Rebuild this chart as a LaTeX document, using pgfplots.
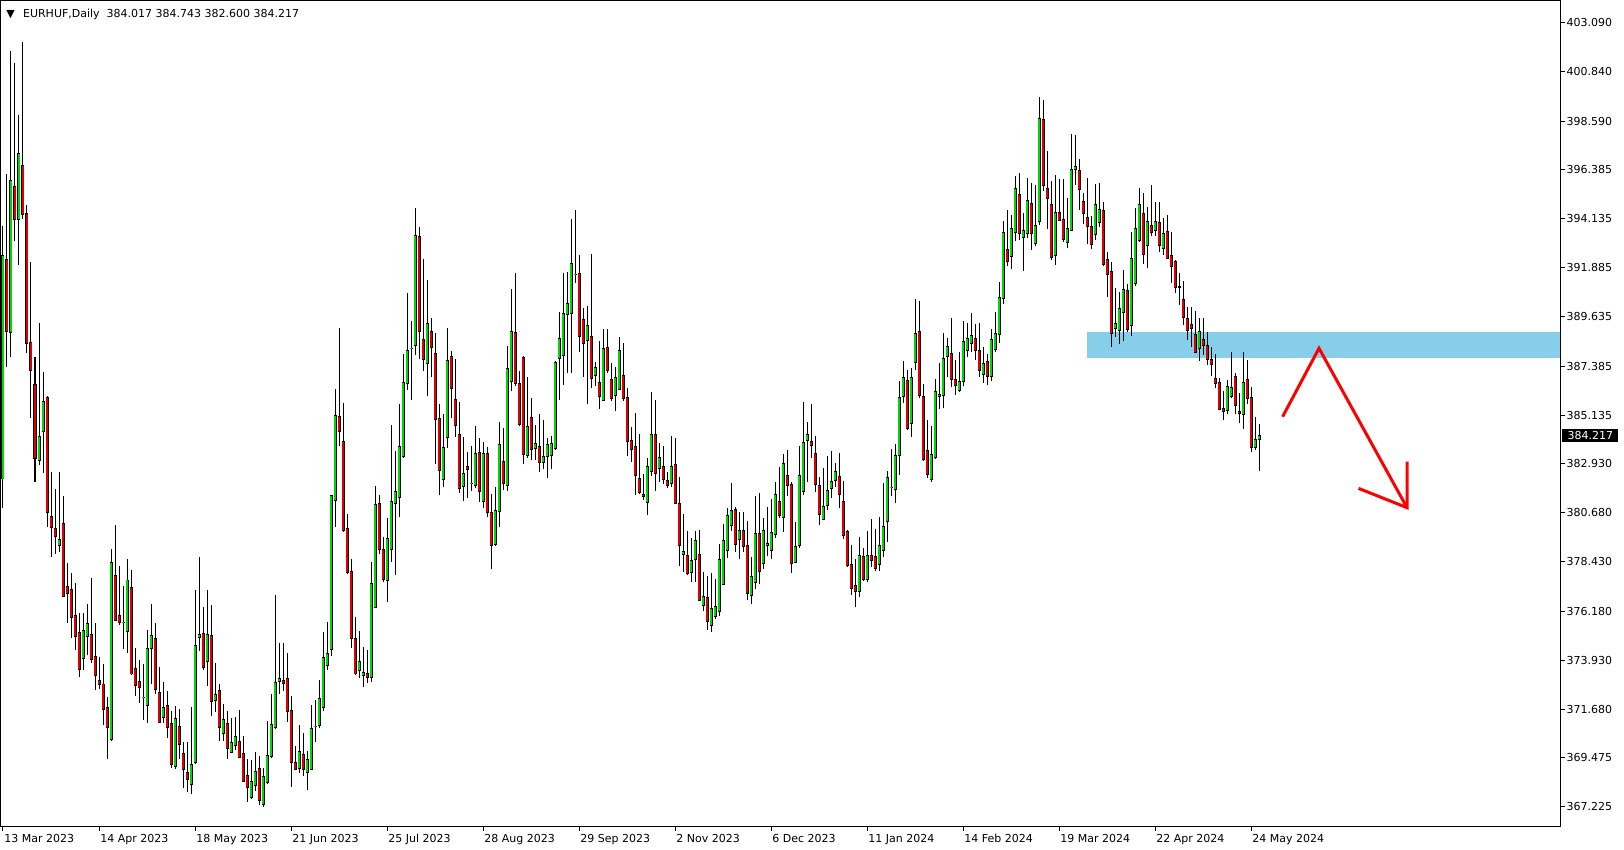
\documentclass[border=0pt]{standalone}
\usepackage{fontspec}
\setmainfont{DejaVu Sans}
\usepackage{pgfplots}
\usepackage{pgfplotstable}
\pgfplotsset{compat=1.18}
\definecolor{bull}{RGB}{0,215,0}
\definecolor{bear}{RGB}{220,0,0}
\definecolor{zone}{RGB}{135,206,235}
\newcommand{\lab}{\fontsize{5.5pt}{6.6pt}\selectfont}
\pgfplotstableread{
i o h l c
0 382.22 393.80 380.90 392.44
2 388.91 401.78 387.82 395.88
4 394.08 398.88 392.00 397.12
9 383.06 389.36 382.85 384.15
10 384.38 387.13 382.51 385.75
14 379.16 382.56 378.86 379.47
20 374.02 376.11 373.47 375.27
21 375.02 376.49 374.16 375.59
27 370.30 379.01 370.24 378.38
30 375.65 377.33 374.43 375.66
31 375.25 378.55 374.27 377.60
35 372.21 373.76 371.20 372.22
36 371.85 375.32 371.04 374.45
37 374.45 376.49 372.82 375.07
40 371.33 372.93 371.04 371.77
43 369.06 371.84 368.97 371.27
47 368.25 371.79 367.83 369.17
48 369.26 377.14 369.20 374.61
49 374.98 378.65 374.35 375.11
51 373.86 377.14 372.77 375.11
53 372.08 373.79 371.56 372.38
55 370.59 371.93 370.25 371.23
57 369.72 371.29 369.67 370.17
58 370.04 371.33 369.81 370.45
62 367.66 369.38 367.60 368.39
63 368.21 369.72 367.93 368.85
65 367.32 368.98 367.23 368.62
66 368.33 371.15 368.28 369.58
67 369.52 372.39 369.44 370.99
68 370.86 376.91 370.80 372.92
69 372.97 374.70 372.40 373.10
74 368.98 370.97 368.76 369.76
76 368.80 369.76 368.01 369.40
77 368.94 371.88 368.90 370.79
78 370.89 372.11 370.20 370.90
79 370.94 373.03 370.82 372.19
80 371.78 375.21 371.59 374.06
81 373.68 375.66 373.48 374.22
82 374.43 381.50 374.12 381.47
83 381.24 386.32 380.04 385.13
89 373.45 375.27 373.10 373.88
90 373.22 374.52 372.69 373.38
92 373.15 378.43 372.92 377.45
93 376.35 381.90 376.30 381.06
96 377.59 380.44 376.61 379.51
97 379.00 384.69 378.41 381.20
98 381.11 383.50 377.84 381.66
99 381.38 385.64 380.50 383.71
100 383.26 387.94 383.20 386.64
101 386.60 390.71 386.28 388.11
102 388.18 389.45 385.82 388.19
103 388.34 394.60 387.88 393.37
106 387.51 391.31 386.00 389.34
110 382.20 385.18 381.84 383.67
111 384.13 389.13 383.62 387.65
115 381.88 384.13 381.20 382.48
117 382.02 383.71 381.66 382.03
118 381.93 384.63 381.79 383.39
120 381.20 383.90 380.88 383.39
123 379.23 381.84 379.14 380.79
124 380.74 384.81 380.01 383.81
126 381.93 388.29 381.66 387.28
127 386.69 390.90 386.23 388.97
131 383.30 386.87 383.17 384.63
133 383.62 384.68 383.07 383.85
135 382.98 384.90 382.66 383.26
136 383.26 384.08 382.25 383.81
137 383.30 384.20 382.66 383.85
138 383.62 387.60 383.55 387.56
139 387.74 389.84 385.82 388.65
140 387.88 391.63 386.51 389.80
141 389.75 391.67 387.05 390.26
142 389.80 394.11 387.05 392.09
143 391.58 394.53 391.17 391.59
146 388.56 390.12 385.64 389.25
148 386.96 387.56 386.46 387.33
150 385.82 389.07 385.78 388.20
153 386.05 387.33 385.31 386.87
154 386.32 388.70 386.28 388.11
161 381.15 383.17 380.56 382.80
162 382.57 386.19 382.34 384.26
164 382.71 383.85 382.07 383.21
167 382.02 384.17 381.84 382.80
170 378.77 380.60 377.95 378.91
172 377.95 379.51 377.49 378.50
173 378.55 379.83 377.49 379.42
175 376.44 377.95 376.17 376.85
177 375.53 377.91 375.21 376.30
178 375.94 377.63 375.80 376.40
179 376.17 379.24 375.94 378.55
180 377.40 380.15 377.35 379.42
181 378.96 380.88 378.59 380.56
182 380.10 382.02 379.83 380.79
184 379.46 380.69 378.55 379.87
187 376.90 378.64 376.49 377.77
188 377.49 381.43 377.17 379.74
190 378.36 380.42 378.09 379.87
191 379.19 380.92 378.68 379.28
192 378.96 381.29 378.55 379.78
193 379.69 382.07 379.51 381.52
195 380.47 383.35 379.78 382.94
198 378.41 380.24 378.36 379.14
199 379.19 383.72 379.05 382.39
200 381.66 385.73 381.47 383.90
201 383.99 384.81 382.07 384.26
205 380.38 382.71 380.33 380.97
206 381.02 383.26 380.79 381.70
207 381.79 383.49 381.34 382.11
208 382.16 382.94 381.84 382.57
214 377.08 379.55 376.81 378.73
216 377.63 379.83 377.49 378.73
219 378.32 380.47 378.00 379.19
220 378.96 382.02 378.64 380.06
221 380.28 382.57 379.32 382.30
222 381.82 383.58 381.43 381.83
223 381.75 383.81 381.11 383.30
224 383.30 386.69 382.39 385.96
225 386.00 387.60 385.68 386.87
227 384.77 387.28 384.13 386.87
228 387.56 390.44 387.19 388.88
232 382.21 384.63 382.07 383.35
233 383.21 386.78 383.15 386.23
234 386.00 387.51 385.41 386.09
235 386.05 388.88 385.45 387.74
236 387.83 388.65 386.87 388.29
239 386.28 388.01 386.19 386.69
240 386.69 389.43 386.46 388.52
241 388.11 389.34 387.82 388.66
242 388.43 389.80 388.02 388.79
245 387.00 388.24 386.60 387.50
247 386.90 389.07 386.70 388.61
248 388.15 389.84 388.02 388.88
249 388.84 391.22 388.43 390.53
250 390.48 394.01 390.21 393.50
252 392.41 394.28 391.82 393.69
253 393.50 396.07 393.09 395.52
255 393.28 394.37 391.75 393.60
256 393.46 395.97 393.23 394.97
258 393.00 395.65 392.86 393.82
259 394.01 399.68 393.82 398.72
263 392.45 396.11 391.99 394.42
266 393.05 395.06 392.77 393.69
267 393.60 397.99 393.55 396.39
268 396.39 397.94 395.65 396.52
273 393.41 395.70 393.14 394.79
274 393.96 395.75 393.73 394.56
278 389.11 390.94 388.70 389.34
279 389.02 390.76 388.38 390.03
280 389.84 391.77 388.52 390.90
282 389.25 393.52 388.75 392.31
283 391.17 394.60 391.03 393.69
284 393.14 395.52 393.05 394.79
286 392.91 394.65 391.86 394.01
288 393.60 394.88 393.32 394.01
290 392.77 394.14 392.45 393.46
299 388.20 389.57 387.60 388.98
306 385.36 386.74 385.18 386.46
307 386.00 388.01 385.91 386.41
310 385.18 388.01 384.49 386.64
313 383.67 385.04 383.53 384.04
314 384.017 384.743 382.600 384.217
}\greentab
\pgfplotstableread{
i o h l c
1 392.27 396.17 387.34 388.96
3 395.59 401.25 393.13 394.08
5 396.55 402.20 394.12 394.31
6 394.35 394.75 387.97 388.43
7 388.45 392.15 384.99 387.17
8 386.54 387.78 382.09 383.14
11 385.93 386.00 380.04 380.69
12 380.52 382.56 378.65 380.02
13 379.95 381.78 378.80 379.58
15 380.18 381.42 376.80 376.85
16 377.29 378.36 375.65 376.97
17 377.16 377.92 374.96 375.88
18 375.99 377.48 374.39 375.00
19 375.21 376.07 373.18 373.51
22 375.09 377.67 373.80 373.97
23 374.12 375.61 372.59 373.22
24 372.99 374.06 372.61 372.80
25 372.84 373.74 370.95 371.69
26 371.75 372.27 369.40 370.87
28 377.81 380.10 375.71 375.76
29 375.99 378.25 375.54 375.65
32 377.27 378.07 373.24 373.30
33 373.55 374.49 372.30 372.78
34 372.97 373.93 371.98 372.67
38 374.94 375.65 372.40 372.59
39 372.46 373.60 371.04 371.08
41 371.87 372.52 370.39 370.86
42 371.04 371.61 369.02 369.17
44 370.91 371.68 369.40 370.08
45 369.67 370.17 368.10 368.94
46 368.80 370.17 367.92 368.48
50 375.16 376.35 373.50 373.59
52 375.07 376.46 371.39 372.03
54 372.55 372.84 370.25 370.86
56 371.04 371.61 369.43 369.90
59 370.22 371.65 369.44 369.49
60 369.67 370.45 368.35 368.39
61 368.66 369.43 367.46 368.11
64 368.98 369.53 367.32 367.52
70 373.01 374.70 372.54 372.87
71 373.10 374.25 371.12 371.58
72 371.61 372.29 368.15 369.26
73 369.26 369.99 368.89 368.94
75 369.63 370.60 368.65 368.94
84 385.09 389.13 383.75 384.39
85 383.94 385.70 379.81 379.86
86 379.96 380.62 377.86 377.95
87 378.00 378.55 374.50 374.93
88 374.93 375.91 373.25 373.30
91 373.33 374.40 372.87 373.15
94 381.11 381.47 378.77 379.00
95 379.00 379.57 377.49 377.63
104 393.32 393.73 387.69 388.97
105 388.61 392.27 387.18 387.69
107 388.97 389.57 386.87 388.24
108 387.97 388.88 382.89 384.95
109 385.00 385.64 381.47 382.62
112 387.83 388.06 385.00 386.37
113 385.87 387.69 384.13 384.67
114 384.26 385.73 381.57 381.79
116 382.77 383.44 381.34 382.66
119 383.44 384.08 381.15 381.66
121 383.39 383.70 380.50 380.70
122 380.70 381.52 378.09 379.19
125 383.03 384.54 381.70 382.02
128 388.93 391.63 386.46 386.60
129 386.60 387.15 384.63 384.72
130 387.79 387.85 382.89 383.35
132 385.04 385.91 383.07 383.58
134 383.71 385.18 382.53 382.98
144 391.63 392.45 388.01 388.75
145 389.53 390.03 386.87 388.43
147 388.75 392.50 386.37 386.83
149 386.64 388.52 385.41 386.00
151 388.24 389.07 387.05 387.19
152 386.78 387.51 385.77 385.91
155 386.96 388.43 385.77 385.91
156 385.96 386.37 383.26 383.94
157 383.99 384.58 382.98 383.58
158 383.71 385.22 381.47 382.39
159 382.25 384.26 381.52 381.61
160 381.52 382.43 381.24 381.43
163 384.26 385.82 381.69 382.48
165 382.80 383.72 381.98 382.21
166 382.16 382.53 381.79 381.93
168 382.89 384.08 381.06 381.11
169 381.11 382.30 378.23 379.19
171 378.73 379.83 377.81 377.90
174 378.77 379.87 376.62 376.67
176 376.81 377.77 375.30 375.71
183 380.83 380.92 378.87 379.24
185 379.87 380.69 378.87 379.14
186 379.19 380.28 376.67 376.99
189 379.74 381.57 377.40 378.00
194 381.20 382.75 380.42 380.56
196 382.39 383.53 381.43 381.93
197 381.98 382.07 377.91 378.36
202 383.94 385.64 383.17 383.76
203 383.39 384.17 381.61 381.98
204 381.93 382.33 380.10 380.60
209 382.34 383.39 380.88 381.52
210 381.20 382.11 379.46 379.64
211 379.83 379.88 378.18 378.27
212 378.32 379.19 376.90 377.22
213 377.36 378.55 376.35 377.08
215 378.68 379.05 377.54 377.63
217 378.73 380.38 378.18 378.50
218 378.68 379.92 378.00 378.13
226 386.73 387.19 384.45 384.54
229 388.97 390.35 385.91 386.05
230 386.00 386.55 383.03 383.12
231 383.53 384.90 382.25 382.43
237 387.97 389.57 386.41 386.78
238 386.78 387.65 386.05 386.51
243 388.66 389.30 387.66 388.11
244 388.11 389.34 386.90 387.20
246 387.60 387.92 386.50 386.90
251 392.73 394.51 391.95 392.18
254 395.24 396.20 393.14 393.46
257 394.83 395.75 392.68 393.46
260 398.67 399.54 395.38 395.65
261 395.52 397.21 393.64 395.06
262 394.79 395.84 392.22 392.36
264 394.42 395.93 394.01 394.05
265 394.10 395.93 393.05 393.18
269 396.34 396.84 394.51 395.47
270 394.92 395.29 393.87 394.37
271 394.19 395.97 392.96 393.78
272 393.78 394.24 392.73 392.96
275 394.51 394.88 391.95 392.04
276 392.27 392.59 390.53 391.58
277 391.72 392.13 388.24 388.88
281 390.85 391.14 388.93 389.07
285 394.37 395.29 392.04 392.50
287 393.82 395.65 393.32 393.50
289 393.96 394.88 392.59 392.91
291 393.55 394.28 392.27 392.31
292 392.45 393.50 391.17 391.95
293 392.18 392.22 390.71 390.99
294 391.03 391.63 390.19 390.99
295 390.44 391.26 389.25 389.62
296 389.57 390.07 388.56 389.02
297 389.30 390.07 388.24 389.11
298 388.84 389.89 387.97 388.01
300 388.61 389.57 387.88 388.34
301 388.34 388.93 387.42 387.70
302 387.70 388.24 386.92 387.47
303 386.83 387.92 386.37 386.60
304 386.64 386.83 385.36 385.41
305 385.45 386.23 384.90 385.32
308 386.92 387.06 385.18 385.59
309 385.32 386.14 384.77 385.23
311 386.78 387.65 385.64 385.91
312 385.96 386.41 383.44 383.67
}\redtab
\begin{document}
\begin{tikzpicture}
\path[use as bounding box] (0,0) rectangle (812pt,425pt);
\begin{axis}[
  name=ax, at={(0.5pt,11.75pt)}, anchor=south west,
  x=2pt, y=10.93pt,
  xmin=-0.5, xmax=389.25, ymin=366.324, ymax=404.11,
  axis line style={black, line width=0.5pt},
  tick align=outside, major tick length=2.5pt,
  tick style={black, line width=0.5pt},
  xtick pos=left, ytick pos=right,
  xticklabel pos=left, yticklabel pos=right,
  xtick={0,24,48,72,96,120,144,168,192,216,240,264,288,312},
  xticklabels={13 Mar 2023,14 Apr 2023,18 May 2023,21 Jun 2023,25 Jul 2023,28 Aug 2023,29 Sep 2023,2 Nov 2023,6 Dec 2023,11 Jan 2024,14 Feb 2024,19 Mar 2024,22 Apr 2024,24 May 2024},
  ytick={403.090,400.840,398.590,396.385,394.135,391.885,389.635,387.385,385.135,382.930,380.680,378.430,376.180,373.930,371.680,369.475,367.225},
  yticklabels={403.090,400.840,398.590,396.385,394.135,391.885,389.635,387.385,385.135,382.930,380.680,378.430,376.180,373.930,371.680,369.475,367.225},
  ticklabel style={font=\lab, inner sep=0pt},
  xticklabel style={anchor=north west, xshift=0.5pt, yshift=-1pt},
  yticklabel style={anchor=west, xshift=0.6pt},
]
\addplot[fill=zone, draw=none] coordinates {(271,387.77) (389.25,387.77) (389.25,388.93) (271,388.93)} -- cycle;
% wicks
\addplot[draw=none, mark=none, error bars/.cd, y dir=plus, y explicit, error mark=none, error bar style={draw=black, line width=0.5pt}]
  table[x=i, y=l, y error expr=\thisrow{h}-\thisrow{l}] {\greentab};
\addplot[draw=none, mark=none, error bars/.cd, y dir=plus, y explicit, error mark=none, error bar style={draw=black, line width=0.5pt}]
  table[x=i, y=l, y error expr=\thisrow{h}-\thisrow{l}] {\redtab};
% body outlines
\addplot[draw=none, mark=none, error bars/.cd, y dir=plus, y explicit, error mark=none, error bar style={draw=black, line width=1.5pt}]
  table[x=i, y expr=\thisrow{o}-0.022, y error expr=\thisrow{c}-\thisrow{o}+0.044] {\greentab};
\addplot[draw=none, mark=none, error bars/.cd, y dir=plus, y explicit, error mark=none, error bar style={draw=black, line width=1.5pt}]
  table[x=i, y expr=\thisrow{c}-0.022, y error expr=\thisrow{o}-\thisrow{c}+0.044] {\redtab};
% body fills
\addplot[draw=none, mark=none, error bars/.cd, y dir=plus, y explicit, error mark=none, error bar style={draw=bull, line width=0.7pt}]
  table[x=i, y expr=\thisrow{o}+0.02, y error expr=\thisrow{c}-\thisrow{o}-0.04] {\greentab};
\addplot[draw=none, mark=none, error bars/.cd, y dir=plus, y explicit, error mark=none, error bar style={draw=bear, line width=0.7pt}]
  table[x=i, y expr=\thisrow{c}+0.02, y error expr=\thisrow{o}-\thisrow{c}-0.04] {\redtab};
% red arrow
\addplot[red, line width=1.5pt, mark=none] coordinates {(319.9,385.07) (329.0,388.20) (351.0,380.91)};
\addplot[red, line width=1.5pt, mark=none] coordinates {(338.9,381.79) (351.0,380.91) (351.0,383.01)};
\end{axis}
\node[anchor=base west, inner sep=0pt, font=\lab] at (3pt,416.3pt) {▼};
\node[anchor=base west, inner sep=0pt, font=\lab] at (11.35pt,416.3pt) {EURHUF,Daily\ \ 384.017 384.743 382.600 384.217};
\node[anchor=west, fill=black, text=white, font=\lab, inner xsep=0pt, inner ysep=0pt, minimum width=28pt, minimum height=6.5pt] at (781pt,207.35pt) {384.217};
\end{tikzpicture}
\end{document}
